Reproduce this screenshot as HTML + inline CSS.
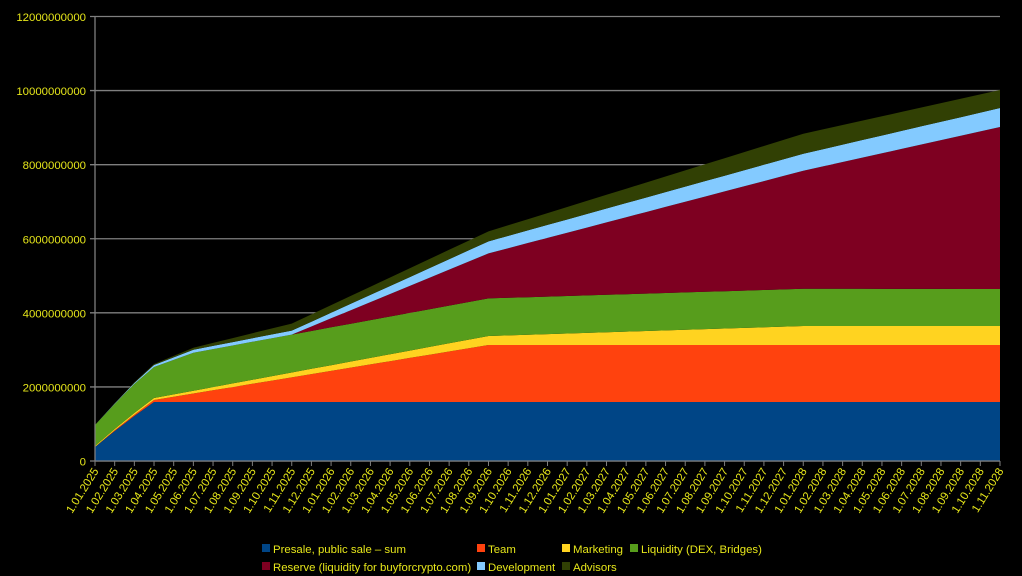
<!DOCTYPE html>
<html><head><meta charset="utf-8"><style>
html,body{margin:0;padding:0;background:#000;}
svg{display:block;font-family:"Liberation Sans",sans-serif;}
</style></head><body>
<svg id="c" width="1022" height="576" xmlns="http://www.w3.org/2000/svg"></svg>
<script>
const s=document.getElementById('c');let h='';
const X0=95,DX=(1000-95)/46,Y0=461,PY=(461-16.5)/6;
for(let k=0;k<=6;k++){const y=Y0-k*PY;
 h+=`<line x1="90" x2="1000" y1="${y}" y2="${y}" stroke="#7f7f7f" stroke-width="1.3"/>`;
 h+=`<text x="86" y="${y+4.5}" text-anchor="end" font-size="11.4" fill="#e6e61a">${k*2000000000}</text>`;}
function interp(kf,i){for(let j=0;j<kf.length-1;j++){const[a,va]=kf[j],[b,vb]=kf[j+1];if(i>=a&&i<=b)return va+(vb-va)*(i-a)/(b-a);}return kf[kf.length-1][1];}
const ser=[
['#004586',[[0,14],[1,30],[2,45],[3,59],[46,59]]],
['#ff420e',[[0,0],[3,2],[20,57],[46,57]]],
['#ffd320',[[0,1],[3,2],[20,9],[36,19],[46,19]]],
['#579d1c',[[0,21],[2,29],[3,31],[5,38],[46,37]]],
['#7e0021',[[0,0],[10,0],[20,45],[36,118],[46,162]]],
['#83caff',[[0,0],[2,1],[3,2],[5,3],[10,4],[20,12],[36,17],[46,19]]],
['#314004',[[0,0],[3,1],[5,2],[10,7],[20,10],[36,20],[46,18]]]];
let base=new Array(47).fill(0);
for(const[c,kf]of ser){let top=base.map((b,i)=>b+interp(kf,i));
 let pts=[];for(let i=0;i<47;i++)pts.push((X0+i*DX).toFixed(1)+','+(Y0-top[i]).toFixed(1));
 for(let i=46;i>=0;i--)pts.push((X0+i*DX).toFixed(1)+','+(Y0-base[i]).toFixed(1));
 h+=`<polygon points="${pts.join(' ')}" fill="${c}"/>`;base=top;}
h+=`<line x1="95" x2="95" y1="16" y2="461" stroke="#7f7f7f" stroke-width="1.3"/>`;
h+=`<line x1="95" x2="1000" y1="461" y2="461" stroke="#7f7f7f" stroke-width="1.3"/>`;
for(let i=0;i<47;i++){const x=X0+i*DX;
 h+=`<line x1="${x}" x2="${x}" y1="461" y2="466" stroke="#7f7f7f"/>`;
 let m=(i%12)+1,yr=2025+Math.floor(i/12);
 const lab=`1.${String(m).padStart(2,'0')}.${yr}`;
 h+=`<text transform="translate(${x+4},471) rotate(-58)" text-anchor="end" font-size="11.4" fill="#e6e61a">${lab}</text>`;}
const leg=[[262,549,'#004586','Presale, public sale – sum'],[477,549,'#ff420e','Team'],[562,549,'#ffd320','Marketing'],[630,549,'#579d1c','Liquidity (DEX, Bridges)'],
[262,567,'#7e0021','Reserve (liquidity for buyforcrypto.com)'],[477,567,'#83caff','Development'],[562,567,'#314004','Advisors']];
for(const[x,y,c,t]of leg){h+=`<rect x="${x}" y="${y-5}" width="8" height="8" fill="${c}"/><text x="${x+11}" y="${y+4}" font-size="11.4" fill="#e6e61a">${t}</text>`;}
s.innerHTML=h;
</script>
</body></html>
